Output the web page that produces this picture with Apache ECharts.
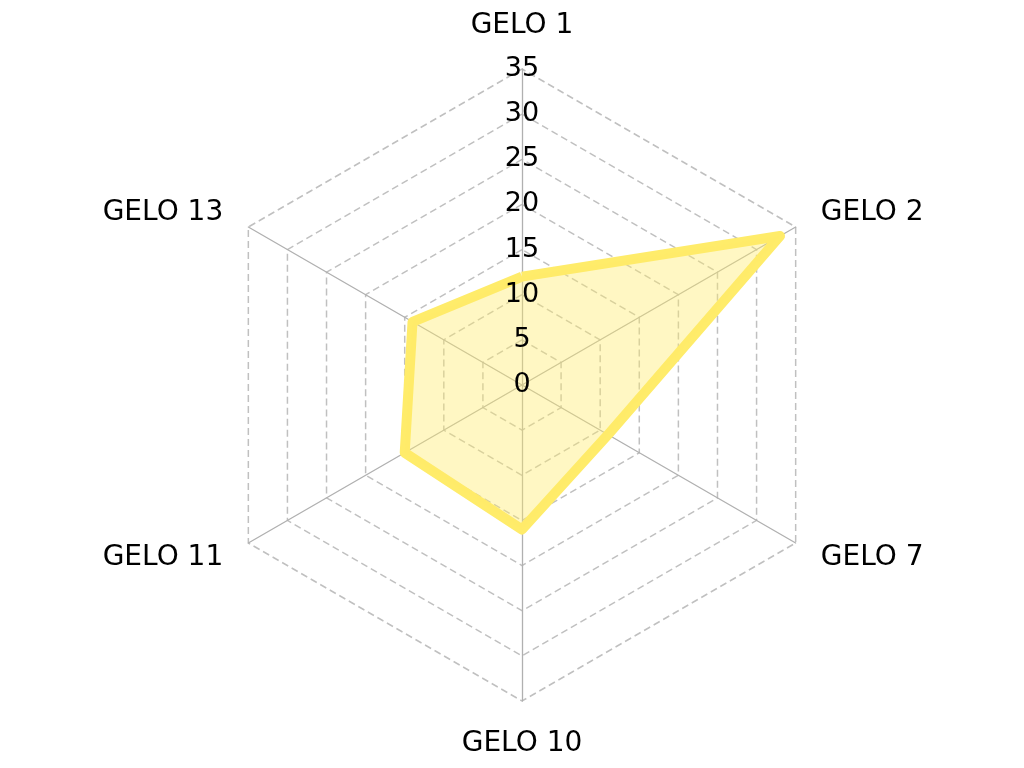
<!DOCTYPE html>
<html style="height: 100%">
<head>
    <meta charset="utf-8">
</head>
<body style="height: 100%; margin: 0; background: #fff">
<div id="container" style="height: 100%"></div>
<script type="text/javascript" src="https://cdn.jsdelivr.net/npm/echarts@6/dist/echarts.min.js"></script>
<script type="text/javascript">
    // clockwise from the top, as in the picture
    var indicatorNames = ['GELO 1', 'GELO 2', 'GELO 7', 'GELO 10', 'GELO 11', 'GELO 13'];
    var values = [12, 33, 11, 16, 15, 14];
    var axisMax = 35;

    var dom = document.getElementById("container");
    var myChart = echarts.init(dom);
    var option = null;

    // echarts lays radar axes out counter-clockwise, so keep the first and flip the rest
    function clockwise(arr) {
        return [arr[0]].concat(arr.slice(1).reverse());
    }

    var names = clockwise(indicatorNames);
    var vals = clockwise(values);

    var font = 'DejaVu Sans';

    var baseRadar = {
        center: [522, 385],
        radius: 316,
        startAngle: 90,
        splitNumber: 7,
        shape: 'polygon'
    };

    option = {
        textStyle: { fontFamily: font },
        radar: [
            Object.assign({}, baseRadar, {
                z: 1,
                indicator: names.map(function (n) { return { name: n, min: 0, max: axisMax }; }),
                nameGap: 29,
                axisName: { color: '#000', fontSize: 28, fontFamily: font },
                axisLine: { lineStyle: { color: '#b0b0b0', width: 1.3 } },
                splitLine: { lineStyle: { color: '#c0c0c0', type: [7, 4], width: 1.5 } },
                splitArea: { show: false },
                axisTick: { show: false },
                axisLabel: { show: false }
            }),
            // second radar on top, only for the tick labels on GELO 1
            Object.assign({}, baseRadar, {
                z: 5,
                indicator: names.map(function (n, i) {
                    return { name: '', min: 0, max: axisMax, axisLabel: { show: i === 0 } };
                }),
                axisName: { show: false },
                axisLine: { show: false },
                splitLine: { show: false },
                splitArea: { show: false },
                axisTick: { show: false },
                axisLabel: {
                    show: false,
                    color: '#000',
                    fontSize: 27,
                    fontFamily: font,
                    margin: 0,
                    align: 'center'
                }
            })
        ],
        series: [{
            type: 'radar',
            radarIndex: 0,
            z: 2,
            symbol: 'none',
            data: [{
                value: vals,
                lineStyle: { color: '#ffec6a', width: 10, join: 'round' },
                areaStyle: { color: '#ffec6a', opacity: 0.4 }
            }]
        }]
    };
    if (option && typeof option === "object") {
        myChart.setOption(option, true);
    }
</script>
</body>
</html>
